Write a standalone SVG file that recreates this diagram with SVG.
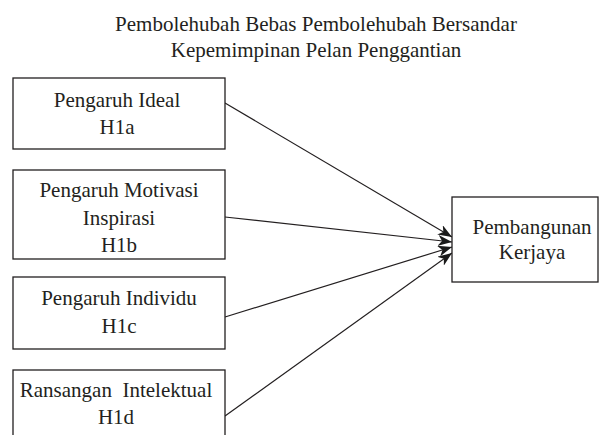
<svg xmlns="http://www.w3.org/2000/svg" width="599" height="435" viewBox="0 0 599 435">
<defs>
<style>
text{font-family:"Liberation Serif","Times New Roman",serif;font-size:21px;fill:#231f20;text-anchor:middle}
.box{fill:#fff;stroke:#231f20;stroke-width:1.3}
.conn line{stroke:#231f20;stroke-width:1.2}
</style>
<marker id="ah" viewBox="0 0 14 11" refX="14" refY="5.5" markerWidth="14" markerHeight="11" markerUnits="userSpaceOnUse" orient="auto">
<path d="M0,0 L14,5.5 L0,11 L4,5.5 Z" fill="#1a1a1a"/>
</marker>
</defs>
<rect width="599" height="435" fill="#fff"/>
<g id="title">
<text x="316" y="31">Pembolehubah Bebas Pembolehubah Bersandar</text>
<text x="316" y="57">Kepemimpinan Pelan Penggantian</text>
</g>
<g class="conn" id="connectors">
<line x1="225" y1="103" x2="452" y2="237" marker-end="url(#ah)"/>
<line x1="225" y1="217" x2="452" y2="242" marker-end="url(#ah)"/>
<line x1="225" y1="317" x2="452" y2="247" marker-end="url(#ah)"/>
<line x1="225" y1="416" x2="452" y2="253" marker-end="url(#ah)"/>
</g>
<g id="n1"><rect class="box" x="13" y="78" width="212" height="71"/>
<text x="117" y="107">Pengaruh Ideal</text><text x="117" y="134">H1a</text></g>
<g id="n2"><rect class="box" x="13" y="170" width="212" height="89"/>
<text x="119" y="197">Pengaruh Motivasi</text><text x="119" y="225">Inspirasi</text><text x="119" y="252">H1b</text></g>
<g id="n3"><rect class="box" x="13" y="277" width="212" height="72"/>
<text x="119" y="305">Pengaruh Individu</text><text x="119" y="333">H1c</text></g>
<g id="n4"><rect class="box" x="13" y="370" width="212" height="75"/>
<text x="116" y="397" xml:space="preserve">Ransangan  Intelektual</text><text x="116" y="424">H1d</text></g>
<g id="n5"><rect class="box" x="452" y="197" width="146" height="85"/>
<text x="532" y="234">Pembangunan</text><text x="532" y="259">Kerjaya</text></g>
</svg>
